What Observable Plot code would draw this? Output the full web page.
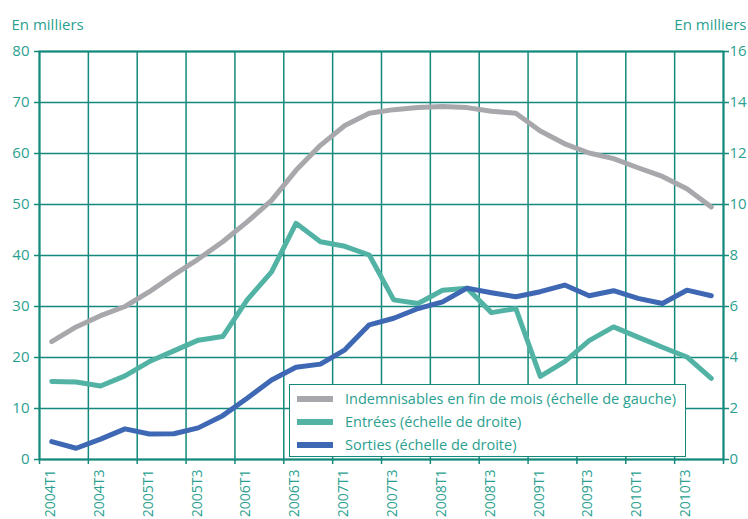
<!DOCTYPE html>
<html>
<head>
<meta charset="utf-8">
<script src="https://cdn.jsdelivr.net/npm/d3@7"></script>
<script src="https://cdn.jsdelivr.net/npm/@observablehq/plot@0.6"></script>
<style>
  body { margin: 0; background: #fff; font-family: "Open Sans", sans-serif; }
  #wrap { position: relative; width: 748px; height: 519px; overflow: hidden; }
  #wrap svg { overflow: visible; }
  .legend { position: absolute; left: 289px; top: 384px; width: 397px; height: 73px;
    box-sizing: border-box; border: 1.5px solid #13897b; background: #fff; padding-top: 2px; }
  .row { display: flex; align-items: center; height: 23px; color: #2b9f90; font-size: 14.5px; }
  .sw { width: 36px; height: 6px; margin-left: 7px; margin-right: 12px; }
</style>
</head>
<body>
<div id="wrap"></div>
<script>
const quarters = ["2004T1","2004T2","2004T3","2004T4","2005T1","2005T2","2005T3","2005T4",
  "2006T1","2006T2","2006T3","2006T4","2007T1","2007T2","2007T3","2007T4",
  "2008T1","2008T2","2008T3","2008T4","2009T1","2009T2","2009T3","2009T4",
  "2010T1","2010T2","2010T3","2010T4"];
// left scale (thousands)
const indemnisables = [23.1, 26.0, 28.2, 30.0, 32.9, 36.2, 39.3, 42.7, 46.6, 50.8, 56.7, 61.6, 65.5, 67.9,
  68.6, 69.0, 69.2, 69.0, 68.3, 67.9, 64.4, 61.9, 60.1, 59.0, 57.2, 55.5, 53.1, 49.5];
// right scale (thousands)
const entrees = [3.06, 3.04, 2.88, 3.28, 3.84, 4.26, 4.68, 4.82, 6.26, 7.36, 9.26, 8.54, 8.36, 8.02,
  6.26, 6.12, 6.64, 6.72, 5.76, 5.92, 3.26, 3.84, 4.66, 5.2, 4.8, 4.4, 4.02, 3.18];
const sorties = [0.7, 0.44, 0.8, 1.2, 1.0, 1.01, 1.24, 1.72, 2.4, 3.12, 3.62, 3.74, 4.3, 5.28,
  5.54, 5.92, 6.18, 6.72, 6.54, 6.38, 6.58, 6.84, 6.42, 6.62, 6.32, 6.12, 6.64, 6.42];
const leftTicks = [0, 10, 20, 30, 40, 50, 60, 70, 80];
const rightMax = 16, leftMax = 80;
const seriesNames = ["Indemnisables en fin de mois (échelle de gauche)", "Entrées (échelle de droite)", "Sorties (échelle de droite)"];
const seriesColors = ["#a8a8ac", "#52b3a5", "#3e67b4"];

const gridColor = "#13897b";
const textColor = "#2b9f90";
const ratio = leftMax / rightMax;

const rows = quarters.map((q, i) => ({
  pos: i + 0.5, q,
  ind: indemnisables[i], ent: entrees[i] * ratio, sor: sorties[i] * ratio
}));
const xTicks = d3.range(0, quarters.length, 2);
const xGrid = d3.range(0, quarters.length + 1, 2);

const chart = Plot.plot({
  width: 748, height: 519,
  marginLeft: 39, marginRight: 25, marginTop: 51, marginBottom: 60,
  x: { type: "linear", domain: [0, quarters.length] },
  y: { domain: [0, leftMax] },
  style: { fontFamily: "'Open Sans', sans-serif", background: "#fff", overflow: "visible" },
  marks: [
    Plot.gridY({ ticks: leftTicks, stroke: gridColor, strokeOpacity: 1, strokeWidth: 1.5 }),
    Plot.gridX({ ticks: xGrid, stroke: gridColor, strokeOpacity: 1, strokeWidth: 1.5 }),
    Plot.frame({ stroke: gridColor, strokeWidth: 2 }),
    Plot.axisY({ ticks: leftTicks, anchor: "left", label: null, tickSize: 5, tickPadding: 5,
      stroke: gridColor, fill: textColor, fontSize: 15, strokeWidth: 1.5 }),
    Plot.axisY({ ticks: leftTicks, anchor: "right", label: null, tickSize: 5, tickPadding: 1,
      tickFormat: d => d / ratio, stroke: gridColor, fill: textColor, fontSize: 15, strokeWidth: 1.5 }),
    Plot.axisX({ ticks: xGrid, anchor: "bottom", label: null, tickSize: 5, tickFormat: () => "",
      stroke: gridColor, strokeWidth: 1.5 }),
    Plot.axisX({ ticks: xTicks, anchor: "bottom", label: null, tickSize: 0, tickPadding: 10,
      tickRotate: -90, dx: 11, tickFormat: i => quarters[i], fill: textColor, fontSize: 14 }),
    Plot.line(rows, { x: "pos", y: "ind", stroke: seriesColors[0], strokeWidth: 5 }),
    Plot.line(rows, { x: "pos", y: "ent", stroke: seriesColors[1], strokeWidth: 5 }),
    Plot.line(rows, { x: "pos", y: "sor", stroke: seriesColors[2], strokeWidth: 5 }),
    Plot.text(["En milliers"], { frameAnchor: "top-left", textAnchor: "start", dx: -28, dy: -32,
      fill: textColor, fontSize: 15 }),
    Plot.text(["En milliers"], { frameAnchor: "top-right", textAnchor: "end", dx: 23, dy: -32,
      fill: textColor, fontSize: 15 })
  ]
});
const wrap = document.getElementById("wrap");
wrap.appendChild(chart);
const legend = document.createElement("div");
legend.className = "legend";
seriesNames.forEach((name, k) => {
  const r = document.createElement("div");
  r.className = "row";
  const s = document.createElement("span");
  s.className = "sw";
  s.style.background = seriesColors[k];
  r.appendChild(s);
  r.appendChild(document.createTextNode(name));
  legend.appendChild(r);
});
wrap.appendChild(legend);
</script>
</body>
</html>
